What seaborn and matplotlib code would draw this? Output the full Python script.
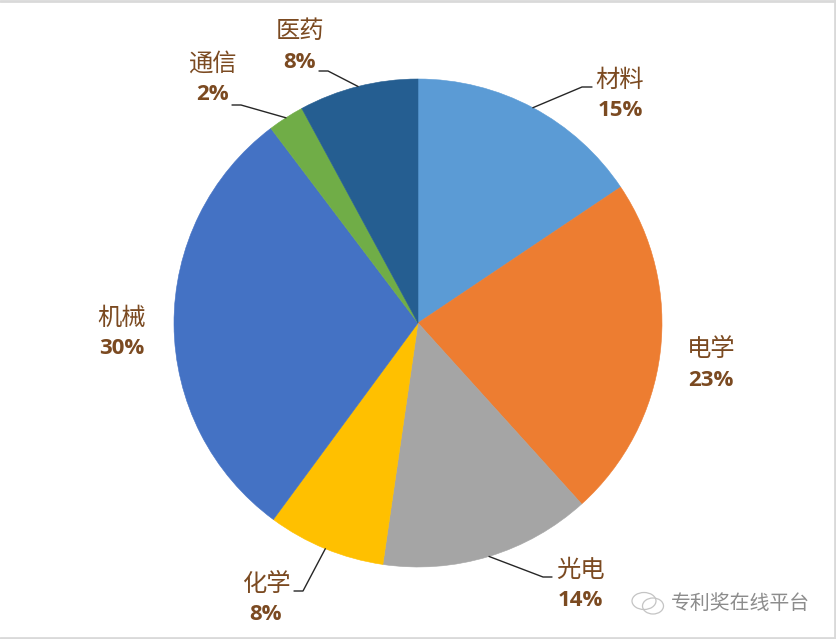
import matplotlib.pyplot as plt
import matplotlib.patches as mpatches
import seaborn as sns
import numpy as np

categories = ["材料", "电学", "光电", "化学", "机械", "通信", "医药"]
shares = [15.6, 22.7, 14.0, 7.8, 29.6, 2.4, 7.9]
pct_labels = ["15%", "23%", "14%", "8%", "30%", "2%", "8%"]
colors = ["#5B9BD5", "#ED7D31", "#A5A5A5", "#FFC000", "#4472C4", "#70AD47", "#255E91"]

# label centres in pixels, y measured from the top
label_pos = [(620, 80), (711, 349), (580, 570), (266, 584), (122, 318), (212, 64), (300, 31)]
# end and elbow of the leader lines, electric and machinery have none
leaders = {0: [(592, 87), (582, 87)], 2: [(552, 577), (543, 577)], 3: [(294, 591), (303, 591)],
           5: [(232, 105), (241, 105)], 6: [(319, 71), (328, 71)]}

sns.set_theme(style="white")
plt.rcParams['font.family'] = ['Noto Sans CJK SC', 'DejaVu Sans']

W, H = 836, 639
CX, CY, R = 418, 323, 244
text_col = "#7B4A21"


def Y(y):
    return H - y


fig = plt.figure(figsize=(W / 100, H / 100), dpi=100, facecolor="white")
ax = fig.add_axes([0, 0, 1, 1])
wedges, _ = ax.pie(shares, colors=colors, startangle=90, counterclock=False,
                   center=(CX, Y(CY)), radius=R, frame=True, wedgeprops={"linewidth": 0})
# close the thin seams between slices
for w, c in zip(wedges, colors):
    w.set_edgecolor(c)
    w.set_linewidth(0.4)
ax.set_xlim(0, W)
ax.set_ylim(0, H)
ax.set_aspect("equal")
ax.set_xticks([])
ax.set_yticks([])
for s in ax.spines.values():
    s.set_visible(False)

for i, (name, pct, (x, y)) in enumerate(zip(categories, pct_labels, label_pos)):
    ax.text(x, Y(y), name, color=text_col, fontsize=17.5, ha="center", va="center")
    ax.text(x, Y(y + 31), pct, color=text_col, fontsize=16, fontweight="bold", ha="center", va="center",
            family=["Open Sans", "DejaVu Sans"])

for i, pts in leaders.items():
    mid = np.deg2rad((wedges[i].theta1 + wedges[i].theta2) / 2)
    ex, ey = CX + R * np.cos(mid), Y(CY) + R * np.sin(mid)
    xs = [p[0] for p in pts] + [ex]
    ys = [Y(p[1]) for p in pts] + [ey]
    ax.plot(xs, ys, color="#262626", lw=1.0, zorder=1)

# watermark
ax.text(740, Y(603), "专利奖在线平台", color="#8c8c8c", fontsize=14.3, ha="center", va="center")
for (x, y, w, h) in [(644, 601, 24, 17), (653, 606, 21, 16)]:
    ax.add_patch(mpatches.Ellipse((x, Y(y)), w, h, fill=False, ec="#c4c4c4", lw=0.9))

# thin screenshot edge
ax.plot([0, W], [Y(1), Y(1)], color="#d9d9d9", lw=2)
ax.plot([0, W], [Y(638), Y(638)], color="#d9d9d9", lw=2)
ax.plot([W - 1, W - 1], [0, H], color="#d9d9d9", lw=2)

fig.savefig("out.png", dpi=100)
